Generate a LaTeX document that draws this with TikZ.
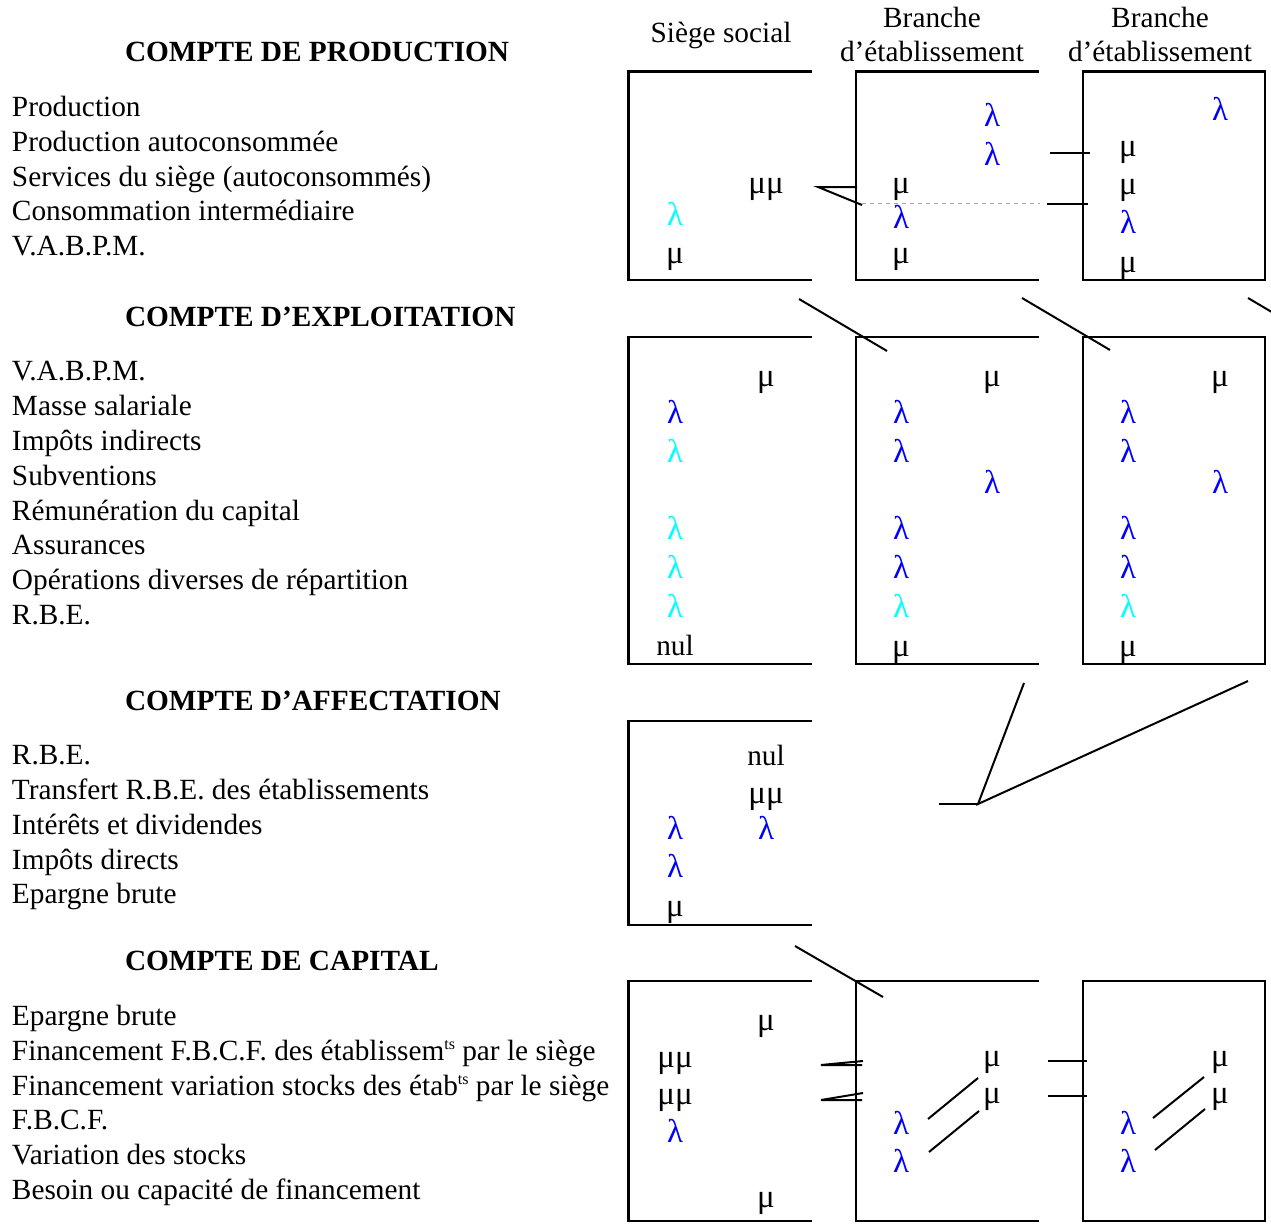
\documentclass[tikz,border=0pt]{standalone}
\usepackage{fontspec}
\setmainfont{Liberation Serif}
\usetikzlibrary{calc}
\definecolor{symblue}{rgb}{0,0,1}
\definecolor{symcyan}{rgb}{0,1,1}
\newcommand{\tacct}[5]{% name, xleft, ytop, ybot, right side (1/0)
  \coordinate (#1-tl) at (#2,#3);
  \coordinate (#1-bl) at (#2,#4);
  \coordinate (#1-tm) at ($(#1-tl)+(91.5,0)$);
  \coordinate (#1-bm) at ($(#1-bl)+(91.5,0)$);
  \coordinate (#1-tr) at ($(#1-tl)+(182,0)$);
  \coordinate (#1-br) at ($(#1-bl)+(182,0)$);
  \draw[boxline] (#1-tm) -- (#1-tl) -- (#1-bl) -- (#1-bm);
  \draw[boxline] ($(#1-tm)+(1,0)$) -- (#1-tr);
  \draw[boxline] ($(#1-bm)+(1,0)$) -- (#1-br);
  \ifnum#5=1 \draw[boxline] (#1-tr) -- (#1-br);\fi
}
\newcommand{\supts}{\raisebox{0.8ex}{\fontsize{16}{16}\selectfont ts}}
\begin{document}
\begin{tikzpicture}[x=1pt,y=-1pt,
  every node/.style={inner sep=0pt, outer sep=0pt},
  font=\fontsize{29.3}{35}\selectfont,
  lab/.style={anchor=base west},
  ttl/.style={anchor=base west, font=\fontsize{29.3}{35}\selectfont\bfseries},
  hdr/.style={anchor=base},
  sym/.style={anchor=base, font=\fontsize{33}{35}\selectfont},
  bl/.style={sym, text=symblue},
  cy/.style={sym, text=symcyan},
  boxline/.style={line width=2.1pt, line cap=rect},
  link/.style={line width=2pt},
  guide/.style={line width=0.9pt, gray!70, dash pattern=on 4pt off 4pt}]
\useasboundingbox (0,0) rectangle (1271,1223);
\clip (0,0) rectangle (1271,1223);

% ---------- headers ----------
\node[hdr] (hS) at (721,43) {Siège social};
\node[hdr] (hB1a) at (932,28) {Branche};
\node[hdr] (hB1b) at (932,62) {d’établissement};
\node[hdr] (hB2a) at (1160,28) {Branche};
\node[hdr] (hB2b) at (1160,62) {d’établissement};

% ---------- left labels ----------
\node[ttl] (t1) at (125,62) {COMPTE DE PRODUCTION};
\node[lab] (l11) at (12,116) {Production};
\node[lab] (l12) at (12,151) {Production autoconsommée};
\node[lab] (l13) at (12,186) {Services du siège (autoconsommés)};
\node[lab] (l14) at (12,220) {Consommation intermédiaire};
\node[lab] (l15) at (12,255) {V.A.B.P.M.};

\node[ttl] (t2) at (125,326) {COMPTE D’EXPLOITATION};
\node[lab] (l21) at (12,380) {V.A.B.P.M.};
\node[lab] (l22) at (12,415) {Masse salariale};
\node[lab] (l23) at (12,450) {Impôts indirects};
\node[lab] (l24) at (12,485) {Subventions};
\node[lab] (l25) at (12,520) {Rémunération du capital};
\node[lab] (l26) at (12,554) {Assurances};
\node[lab] (l27) at (12,589) {Opérations diverses de répartition};
\node[lab] (l28) at (12,624) {R.B.E.};

\node[ttl] (t3) at (125,710) {COMPTE D’AFFECTATION};
\node[lab] (l31) at (12,764) {R.B.E.};
\node[lab] (l32) at (12,799) {Transfert R.B.E. des établissements};
\node[lab] (l33) at (12,834) {Intérêts et dividendes};
\node[lab] (l34) at (12,869) {Impôts directs};
\node[lab] (l35) at (12,903) {Epargne brute};

\node[ttl] (t4) at (125,970) {COMPTE DE CAPITAL};
\node[lab] (l41) at (12,1025) {Epargne brute};
\node[lab] (l42) at (12,1060) {Financement F.B.C.F. des établissem\supts{} par le siège};
\node[lab] (l43) at (12,1095) {Financement variation stocks des étab\supts{} par le siège};
\node[lab] (l44) at (12,1129) {F.B.C.F.};
\node[lab] (l45) at (12,1164) {Variation des stocks};
\node[lab] (l46) at (12,1199) {Besoin ou capacité de financement};

% ---------- T-accounts ----------
\tacct{P1}{628.5}{71.5}{280}{0}
\tacct{P2}{856}{71.5}{280}{0}
\tacct{P3}{1083}{71.5}{280}{1}
\tacct{E1}{628.5}{337}{664}{0}
\tacct{E2}{856}{337}{664}{0}
\tacct{E3}{1083}{337}{664}{1}
\tacct{A1}{628.5}{721}{925}{0}
\tacct{C1}{628.5}{981}{1221}{0}
\tacct{C2}{856}{981}{1221}{0}
\tacct{C3}{1083}{981}{1221}{1}

% ---------- production entries ----------
\node[sym] (p1a) at (766,193) {μμ};
\node[cy]  (p1b) at (675,225) {λ};
\node[sym] (p1c) at (675,263) {μ};
\node[bl]  (p2a) at (992,126) {λ};
\node[bl]  (p2b) at (992,165) {λ};
\node[sym] (p2c) at (901,193) {μ};
\node[bl]  (p2d) at (901,228) {λ};
\node[sym] (p2e) at (901,263) {μ};
\node[bl]  (p3a) at (1220,120) {λ};
\node[sym] (p3b) at (1128,156) {μ};
\node[sym] (p3c) at (1128,194) {μ};
\node[bl]  (p3d) at (1128,233) {λ};
\node[sym] (p3e) at (1128,272) {μ};

% ---------- exploitation entries ----------
\node[sym] (e1a) at (766,386) {μ};
\node[bl]  (e1b) at (675,423) {λ};
\node[cy]  (e1c) at (675,462) {λ};
\node[cy]  (e1d) at (675,539) {λ};
\node[cy]  (e1e) at (675,578) {λ};
\node[cy]  (e1f) at (675,617) {λ};
\node[sym, font=\fontsize{29.3}{35}\selectfont] (e1g) at (675,655) {nul};
\node[sym] (e2a) at (992,386) {μ};
\node[bl]  (e2b) at (901,423) {λ};
\node[bl]  (e2c) at (901,462) {λ};
\node[bl]  (e2d) at (992,493) {λ};
\node[bl]  (e2e) at (901,539) {λ};
\node[bl]  (e2f) at (901,578) {λ};
\node[cy]  (e2g) at (901,617) {λ};
\node[sym] (e2h) at (901,656) {μ};
\node[sym] (e3a) at (1220,386) {μ};
\node[bl]  (e3b) at (1128,423) {λ};
\node[bl]  (e3c) at (1128,462) {λ};
\node[bl]  (e3d) at (1220,493) {λ};
\node[bl]  (e3e) at (1128,539) {λ};
\node[bl]  (e3f) at (1128,578) {λ};
\node[cy]  (e3g) at (1128,617) {λ};
\node[sym] (e3h) at (1128,656) {μ};

% ---------- affectation entries ----------
\node[sym, font=\fontsize{29.3}{35}\selectfont] (a1a) at (766,765) {nul};
\node[sym] (a1b) at (766,803) {μμ};
\node[bl]  (a1c) at (675,839) {λ};
\node[bl]  (a1d) at (766,839) {λ};
\node[bl]  (a1e) at (675,877) {λ};
\node[sym] (a1f) at (675,916) {μ};

% ---------- capital entries ----------
\node[sym] (c1a) at (766,1030) {μ};
\node[sym] (c1b) at (675,1067) {μμ};
\node[sym] (c1c) at (675,1104) {μμ};
\node[bl]  (c1d) at (675,1142) {λ};
\node[sym] (c1e) at (766,1207) {μ};
\node[sym] (c2a) at (992,1066) {μ};
\node[sym] (c2b) at (992,1103) {μ};
\node[bl]  (c2c) at (901,1134) {λ};
\node[bl]  (c2d) at (901,1172) {λ};
\node[sym] (c3a) at (1220,1066) {μ};
\node[sym] (c3b) at (1220,1103) {μ};
\node[bl]  (c3c) at (1128,1134) {λ};
\node[bl]  (c3d) at (1128,1172) {λ};

% ---------- connector points ----------
\coordinate (q1a) at (857,187);  \coordinate (q1b) at (818,187);  \coordinate (q1c) at (862,205);
\coordinate (g1a) at (862,203.5); \coordinate (g1b) at (1040,203.5);
\coordinate (q2a) at (1050,153); \coordinate (q2b) at (1090,153);
\coordinate (q3a) at (1047,203.5); \coordinate (q3b) at (1088,203.5);
\coordinate (d1a) at (799,299);  \coordinate (d1b) at (887,351);
\coordinate (d2a) at (1022,298); \coordinate (d2b) at (1110,350);
\coordinate (d3a) at (1248,298); \coordinate (d3b) at (1336,350);
\coordinate (f1a) at (939,804);  \coordinate (f1b) at (978,804);
\coordinate (f1c) at (1024,683); \coordinate (f1d) at (1248,681);
\coordinate (d4a) at (795,946);  \coordinate (d4b) at (883,997);
\coordinate (k1a) at (863,1061); \coordinate (k1b) at (821,1065); \coordinate (k1c) at (862,1065);
\coordinate (k2a) at (863,1093); \coordinate (k2b) at (821,1100); \coordinate (k2c) at (862,1100);
\coordinate (k3a) at (1048,1061); \coordinate (k3b) at (1087,1061);
\coordinate (k4a) at (1048,1096); \coordinate (k4b) at (1087,1096);
\coordinate (s1a) at (928,1119);  \coordinate (s1b) at (978,1078);
\coordinate (s2a) at (929,1152);  \coordinate (s2b) at (979,1111);
\coordinate (s3a) at (1153,1118); \coordinate (s3b) at (1204,1077);
\coordinate (s4a) at (1155,1150); \coordinate (s4b) at (1205,1109);

% ---------- connectors ----------
\draw[link] (q1a) -- (q1b) -- (q1c);
\draw[guide] (g1a) -- (g1b);
\draw[link] (q2a) -- (q2b);
\draw[link] (q3a) -- (q3b);
\draw[link] (d1a) -- (d1b);
\draw[link] (d2a) -- (d2b);
\draw[link] (d3a) -- (d3b);
\draw[link] (f1a) -- (f1b);
\draw[link] (f1c) -- (f1b) -- (f1d);
\draw[link] (d4a) -- (d4b);
\draw[link] (k1a) -- (k1b) -- (k1c);
\draw[link] (k2a) -- (k2b) -- (k2c);
\draw[link] (k3a) -- (k3b);
\draw[link] (k4a) -- (k4b);
\draw[link] (s1a) -- (s1b);
\draw[link] (s2a) -- (s2b);
\draw[link] (s3a) -- (s3b);
\draw[link] (s4a) -- (s4b);
\end{tikzpicture}
\end{document}
